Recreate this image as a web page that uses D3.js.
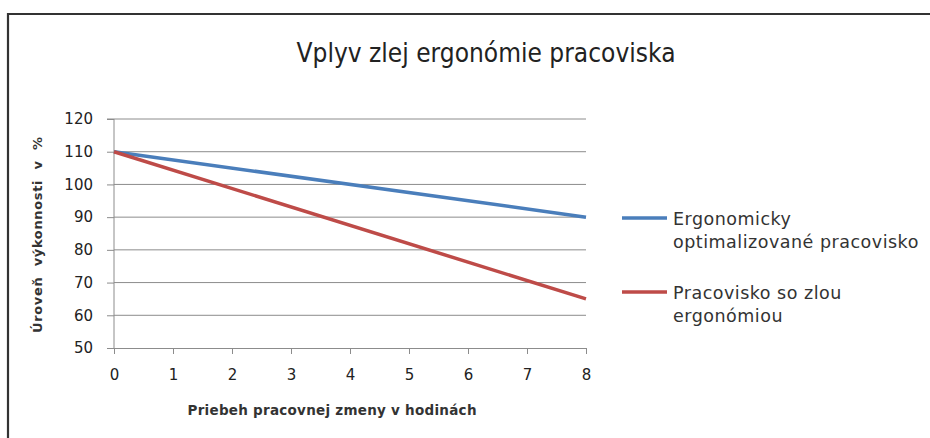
<!DOCTYPE html>
<html><head><meta charset="utf-8">
<script src="https://cdn.jsdelivr.net/npm/d3@7"></script>
<style>body{margin:0;background:#fff}svg{display:block}</style>
</head><body>
<svg id="c" width="930" height="438"></svg>
<script>
const hours = [0, 8];
const seriesNames = ["Ergonomicky optimalizované pracovisko", "Pracovisko so zlou ergonómiou"];
const optimalValues = [110, 90];
const poorValues = [110, 65];
const yTicks = [50, 60, 70, 80, 90, 100, 110, 120];
const xTicks = [0, 1, 2, 3, 4, 5, 6, 7, 8];
const title = "Vplyv zlej ergonómie pracoviska";
const xTitle = "Priebeh pracovnej zmeny v hodinách";
const yTitle = "Úroveň  výkonnosti  v  %";

const svg = d3.select("#c");
const font = "'DejaVu Sans',sans-serif";
const x = d3.scaleLinear().domain([0, 8]).range([114, 586]);
const y = d3.scaleLinear().domain([50, 120]).range([348, 119]);

// frame
svg.append("path").attr("d","M8,440 L8,14 L932,14").attr("fill","none").attr("stroke","#333").attr("stroke-width",2.2);

svg.append("text").attr("x",486).attr("y",62).attr("text-anchor","middle")
  .attr("font-family",font).attr("font-size",27).attr("fill","#222")
  .attr("textLength",379).attr("lengthAdjust","spacingAndGlyphs").text(title);

// gridlines
svg.append("g").selectAll("line").data(yTicks.filter(d=>d>50)).join("line")
  .attr("x1",x(0)).attr("x2",x(8)).attr("y1",d=>y(d)).attr("y2",d=>y(d))
  .attr("stroke","#8c8c8c").attr("stroke-width",1);

const ya = svg.append("g").attr("transform",`translate(${x(0)},0)`)
  .call(d3.axisLeft(y).tickValues(yTicks).tickSize(7).tickPadding(14));
const xa = svg.append("g").attr("transform",`translate(0,${y(50)})`)
  .call(d3.axisBottom(x).tickValues(xTicks).tickSize(6).tickPadding(15));
[ya,xa].forEach(a=>{
  a.select(".domain").attr("stroke","#8c8c8c");
  a.selectAll(".tick line").attr("stroke","#8c8c8c");
  a.selectAll("text").attr("font-family",font).attr("font-size",15).attr("fill","#222");
});
xa.selectAll(".tick text").attr("dy","0.71em");
ya.select(".domain").attr("d",`M-7,${y(120)}H0V${y(50)}`);

const line = d3.line().x((d,i)=>x(hours[i])).y(d=>y(d));
const colors = ["#4a7ebb","#be4b48"];
[optimalValues, poorValues].forEach((vals,i)=>{
  svg.append("path").datum(vals).attr("d",line).attr("fill","none")
    .attr("stroke",colors[i]).attr("stroke-width",3.5);
});

svg.append("text").attr("transform","translate(42,235) rotate(-90)").attr("text-anchor","middle")
  .attr("font-family",font).attr("font-weight","bold").attr("font-size",13).attr("fill","#333")
  .attr("xml:space","preserve").style("white-space","pre")
  .attr("textLength",196).attr("lengthAdjust","spacing").text(yTitle);
svg.append("text").attr("x",332).attr("y",415).attr("text-anchor","middle")
  .attr("font-family",font).attr("font-weight","bold").attr("font-size",13.5).attr("fill","#333")
  .attr("textLength",289).attr("lengthAdjust","spacing").text(xTitle);

// legend
const legendLines = [["Ergonomicky","optimalizované pracovisko"],["Pracovisko so zlou","ergonómiou"]];
const ly = [218, 292];
legendLines.forEach((ls,i)=>{
  svg.append("line").attr("x1",622).attr("x2",667).attr("y1",ly[i]).attr("y2",ly[i])
    .attr("stroke",colors[i]).attr("stroke-width",3.5);
  const t = svg.append("text").attr("x",673).attr("y",ly[i]+7).attr("font-family",font)
    .attr("font-size",17.5).attr("letter-spacing",0.5).attr("fill","#333");
  ls.forEach((s,j)=>t.append("tspan").attr("x",673).attr("dy",j?23:0).text(s));
});
</script>
</body></html>
